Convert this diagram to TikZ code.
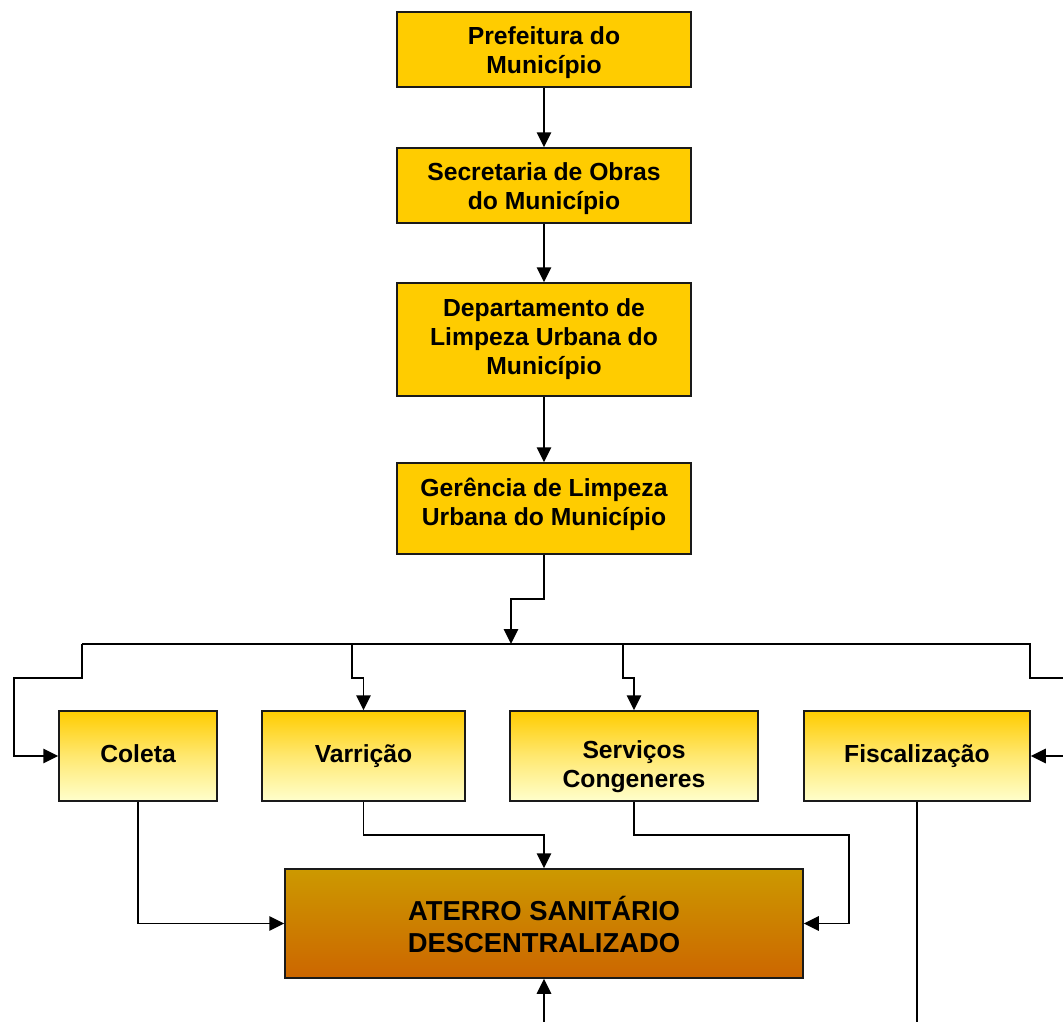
\documentclass[tikz,border=0pt]{standalone}
\usepackage{fontspec}
\setmainfont{Liberation Sans}
\usetikzlibrary{arrows.meta,calc}

\definecolor{gold}{HTML}{FFCC00}
\definecolor{paleyellow}{HTML}{FFFFCC}
\definecolor{ochre}{HTML}{CC9900}
\definecolor{rust}{HTML}{CC6600}
\definecolor{edge}{HTML}{1A1A1A}

\begin{document}
\begin{tikzpicture}[x=1pt,y=-1pt,
  conn/.style={line width=1.7pt, black},
  arr/.style={conn, -{Triangle[length=15pt,width=14.5pt]}},
  boxbase/.style={draw=edge, line width=1.5pt, rectangle, inner sep=0pt},
  topbox/.style={boxbase, fill=gold},
  rowbox/.style={boxbase, top color=gold, bottom color=paleyellow, middle color=gold!45!paleyellow},
  sinkbox/.style={boxbase, top color=ochre, bottom color=rust},
  % the base anchor of a multi-line label sits on its last line
  lbl/.style={anchor=base, align=center, inner sep=0pt,
    font=\fontsize{24.7pt}{28.6pt}\selectfont\bfseries},
  biglbl/.style={lbl, font=\fontsize{27.4pt}{32pt}\selectfont\bfseries}
]
\clip (0,0) rectangle (1063,1021);

% hierarchy boxes
\node[topbox, minimum width=294, minimum height=75]  (pref) at (544,49.5)  {};
\node[topbox, minimum width=294, minimum height=75]  (secr) at (544,185.5) {};
\node[topbox, minimum width=294, minimum height=113] (dept) at (544,339.5) {};
\node[topbox, minimum width=294, minimum height=91]  (ger)  at (544,508.5) {};

% service boxes
\node[rowbox, minimum width=158, minimum height=90] (coleta) at (138,756)   {};
\node[rowbox, minimum width=203, minimum height=90] (varr)   at (363.5,756) {};
\node[rowbox, minimum width=248, minimum height=90] (serv)   at (634,756)   {};
\node[rowbox, minimum width=226, minimum height=90] (fisc)   at (917,756)   {};

% landfill
\node[sinkbox, minimum width=518, minimum height=109] (aterro) at (544,923.5) {};

% texts
\node[lbl] (tpref) at (544,73)  {Prefeitura do\\Município};
\node[lbl] (tsecr) at (544,209) {Secretaria de Obras\\do Município};
\node[lbl] (tdept) at (544,374) {Departamento de\\Limpeza Urbana do\\Município};
\node[lbl] (tger)  at (544,525) {Gerência de Limpeza\\Urbana do Município};
\node[lbl] (tcol)  at (138,762)   {Coleta};
\node[lbl] (tvarr) at (363.5,762) {Varrição};
\node[lbl] (tserv) at (634,787)   {Serviços\\Congeneres};
\node[lbl] (tfisc) at (917,762)   {Fiscalização};
\node[biglbl] (tater) at (544,952) {ATERRO SANITÁRIO\\DESCENTRALIZADO};

% bus junction points
\coordinate (busL) at (82,644);
\coordinate (busR) at (1030,644);
\coordinate (busIn) at (511,644);
\coordinate (offR) at (1075,678);
\coordinate (inR) at (1075,756);
\coordinate (inB) at (544,1030);
\coordinate (outB) at (917,1030);

% chain of command
\draw[arr] (pref.south) -- (secr.north);
\draw[arr] (secr.south) -- (dept.north);
\draw[arr] (dept.south) -- (ger.north);
\draw[arr] (ger.south) -- (544,599) -- (511,599) -- (busIn);

% distribution bus
\draw[conn] (busL) -- (busR) -- (1030,678) -- (offR);
\draw[arr] (busL) -- (82,678) -- (14,678) -- (14,756) -- (coleta.west);
\draw[arr] (352,644) -- (352,678) -- (363.5,678) -- (varr.north);
\draw[arr] (623,644) -- (623,678) -- (634,678) -- (serv.north);
\draw[arr] (inR) -- (fisc.east);

% flows into the landfill
\draw[arr] (coleta.south) -- (138,923.5) -- (aterro.west);
\draw[arr] (varr.south) -- (363.5,835) -- (544,835) -- (aterro.north);
\draw[arr] (serv.south) -- (634,835) -- (849,835) -- (849,923.5) -- (aterro.east);
\draw[arr] (inB) -- (aterro.south);
\draw[conn] (fisc.south) -- (outB);
\end{tikzpicture}
\end{document}
